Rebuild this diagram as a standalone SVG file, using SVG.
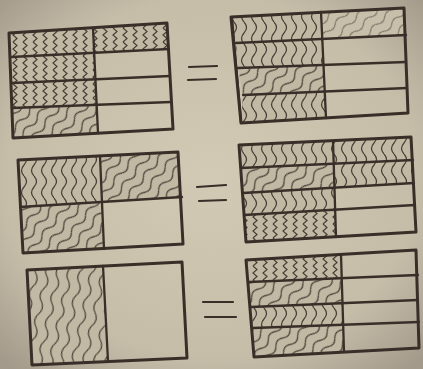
<svg xmlns="http://www.w3.org/2000/svg" width="423" height="369" viewBox="0 0 423 369">
<defs>
<radialGradient id="paper" cx="50%" cy="48%" r="70%">
<stop offset="0" stop-color="#d3cab6"/>
<stop offset="0.7" stop-color="#c6bda9"/>
<stop offset="1" stop-color="#a39a8b"/>
</radialGradient>
<pattern id="zig" patternUnits="userSpaceOnUse" width="10" height="14">
<rect width="10" height="14" fill="#c2b9a5"/>
<path d="M3,0 L7,3.5 L3,7 L7,10.5 L3,14" fill="none" stroke="#4a3d35" stroke-width="1.2"/>
</pattern>
<pattern id="wave" patternUnits="userSpaceOnUse" width="10" height="22">
<rect width="10" height="22" fill="#c2b9a5"/>
<path d="M4,0 q5,5.5 0,11 q-5,5.5 0,11" fill="none" stroke="#4a3d35" stroke-width="1.2"/>
</pattern>
<pattern id="diag" patternUnits="userSpaceOnUse" width="10" height="22" patternTransform="rotate(40)">
<rect width="10" height="22" fill="#c2b9a5"/>
<path d="M4,0 q5,5.5 0,11 q-5,5.5 0,11" fill="none" stroke="#4a3d35" stroke-width="1.2"/>
</pattern>
<pattern id="slant" patternUnits="userSpaceOnUse" width="11" height="26" patternTransform="rotate(12)">
<rect width="11" height="26" fill="#c2b9a5"/>
<path d="M4,0 q5,6.5 0,13 q-5,6.5 0,13" fill="none" stroke="#4a3d35" stroke-width="1.2"/>
</pattern>
<pattern id="light" patternUnits="userSpaceOnUse" width="10" height="20" patternTransform="rotate(45)">
<rect width="10" height="20" fill="#c8bfab"/>
<path d="M4,0 q4,5 0,10 q-4,5 0,10" fill="none" stroke="#6a5c52" stroke-width="1"/>
</pattern>
</defs>
<style>
.out{fill:none;stroke:#3a2e28;stroke-width:3;stroke-linejoin:round;stroke-linecap:round}
.ln{fill:none;stroke:#3a2e28;stroke-width:2.3;stroke-linecap:round}
.eq{fill:none;stroke:#3a2e28;stroke-width:2.2;stroke-linecap:round}
</style>
<rect width="423" height="369" fill="url(#paper)"/>

<g id="rect1">
<polygon points="9,33 93,28 94,53 11,57" fill="url(#zig)"/>
<polygon points="93,28 167,23 169,49 94,53" fill="url(#zig)"/>
<polygon points="11,57 94,53 95,79 12,83" fill="url(#zig)"/>
<polygon points="12,83 95,79 96,105 12,108" fill="url(#zig)"/>
<polygon points="12,108 96,105 98,133 13,138" fill="url(#diag)"/>
<polygon class="out" points="9,33 167,23 173,129 13,138"/>
<line class="ln" x1="93" y1="28" x2="98" y2="133"/>
<line class="ln" x1="11" y1="57" x2="169" y2="49"/>
<line class="ln" x1="12" y1="83" x2="170" y2="76"/>
<line class="ln" x1="12" y1="108" x2="171" y2="102"/>
</g>

<g id="rect2">
<polygon points="231,17 321,12 323,39 236,43" fill="url(#wave)"/>
<polygon points="321,12 404,8 406,35 323,39" fill="url(#light)"/>
<polygon points="236,43 323,39 324,65 238,68" fill="url(#wave)"/>
<polygon points="238,68 324,65 325,91 243,95" fill="url(#diag)"/>
<polygon points="243,95 325,91 326,118 241,123" fill="url(#wave)"/>
<polygon class="out" points="231,17 404,8 408,113 241,123"/>
<line class="ln" x1="232" y1="18" x2="241" y2="122" stroke-width="3.8"/>
<line class="ln" x1="321" y1="12" x2="326" y2="118" stroke-width="2.8"/>
<line class="ln" x1="236" y1="43" x2="406" y2="35"/>
<line class="ln" x1="238" y1="68" x2="406" y2="62"/>
<line class="ln" x1="243" y1="95" x2="407" y2="88"/>
</g>

<g id="rect3">
<polygon points="18,160 100,156 102,202 20,207" fill="url(#wave)"/>
<polygon points="100,156 178,152 182,197 102,202" fill="url(#diag)"/>
<polygon points="20,207 102,202 104,249 23,253" fill="url(#diag)"/>
<polygon class="out" points="18,160 178,152 183,244 23,253"/>
<line class="ln" x1="100" y1="156" x2="104" y2="249"/>
<line class="ln" x1="20" y1="207" x2="182" y2="197"/>
</g>

<g id="rect4">
<polygon points="239,145 333,141 334,164 241,168" fill="url(#wave)"/>
<polygon points="333,141 411,137 413,160 334,164" fill="url(#wave)"/>
<polygon points="241,168 334,164 334.5,188 243,193" fill="url(#diag)"/>
<polygon points="334,164 413,160 414,183 334.5,188" fill="url(#wave)"/>
<polygon points="243,193 334.5,188 335,210 244,215" fill="url(#wave)"/>
<polygon points="244,215 335,210 336,237 246,242" fill="url(#zig)"/>
<polygon class="out" points="239,145 411,137 416,232 246,242"/>
<line class="ln" x1="333" y1="141" x2="336" y2="237"/>
<line class="ln" x1="241" y1="168" x2="413" y2="160"/>
<line class="ln" x1="243" y1="193" x2="414" y2="183"/>
<line class="ln" x1="244" y1="215" x2="415" y2="205"/>
</g>

<g id="rect5">
<polygon points="27,270 103,266 108,361 32,365" fill="url(#slant)"/>
<polygon class="out" points="27,270 182,262 187,358 32,365"/>
<line class="ln" x1="103" y1="266" x2="108" y2="361"/>
</g>

<g id="rect6">
<polygon points="246,260 341,254.5 342,278 249,282" fill="url(#zig)"/>
<polygon points="249,282 342,278 343,303 251,307" fill="url(#diag)"/>
<polygon points="251,307 343,303 343.5,325 253,328" fill="url(#wave)"/>
<polygon points="253,328 343.5,325 344,352 254,357" fill="url(#diag)"/>
<polygon class="out" points="246,260 416,250 419,348 254,357"/>
<line class="ln" x1="341" y1="254.5" x2="344" y2="352"/>
<line class="ln" x1="249" y1="282" x2="418" y2="275"/>
<line class="ln" x1="251" y1="307" x2="418" y2="300"/>
<line class="ln" x1="253" y1="328" x2="419" y2="322"/>
</g>

<g id="connectors">
<line class="eq" x1="189" y1="67" x2="217" y2="66"/>
<line class="eq" x1="188" y1="80" x2="216" y2="79"/>
<line class="eq" x1="197" y1="187" x2="226" y2="185"/>
<line class="eq" x1="199" y1="201" x2="226" y2="200"/>
<line class="eq" x1="203" y1="302" x2="233" y2="302"/>
<line class="eq" x1="205" y1="317" x2="236" y2="317"/>
</g>
</svg>
